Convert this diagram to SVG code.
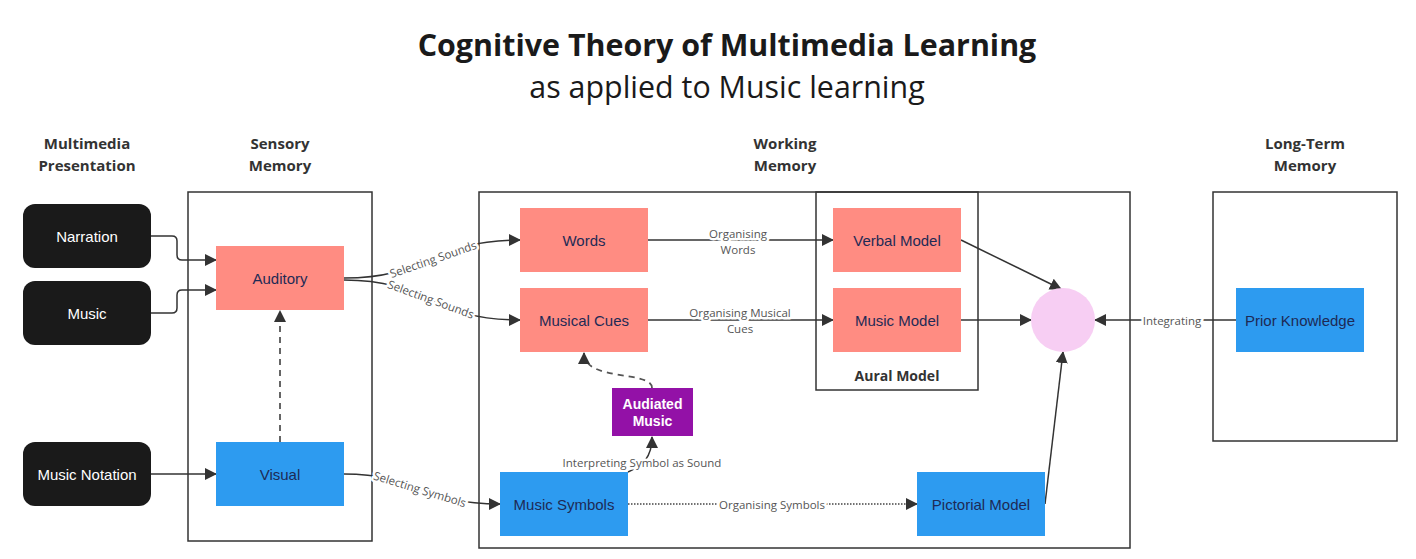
<svg xmlns="http://www.w3.org/2000/svg" width="1416" height="559" viewBox="0 0 1416 559">
<style>
.title{font-family:"Open Sans","Noto Sans",sans-serif;fill:#1a1a1a;text-anchor:middle}
.hdr{font-family:"Open Sans","Noto Sans",sans-serif;font-weight:bold;font-size:15px;fill:#333;text-anchor:middle}
.cont{fill:none;stroke:#333;stroke-width:1.5}
.blk{fill:#1a1a1a}
.blk-t{font-family:"Liberation Sans",Arial,sans-serif;font-size:15px;fill:#fff;text-anchor:middle;dominant-baseline:central}
.sal{fill:#ff8c82}
.blu{fill:#2d9bf0}
.nt{font-family:"Liberation Sans",Arial,sans-serif;font-size:15px;fill:#1e2a55;text-anchor:middle;dominant-baseline:central}
.edge{fill:none;stroke:#333;stroke-width:1.5}
.dash{fill:none;stroke:#555;stroke-width:1.8;stroke-dasharray:6 5}
.dot{fill:none;stroke:#444;stroke-width:1.3;stroke-dasharray:1.5 1.5}
.lbl{font-family:"Open Sans","Noto Sans",sans-serif;font-size:11.5px;fill:#555;text-anchor:middle;dominant-baseline:central;paint-order:stroke;stroke:#fff;stroke-width:5px;stroke-linejoin:round}
</style>
<defs>
<marker id="arr" markerUnits="userSpaceOnUse" markerWidth="12" markerHeight="12" viewBox="0 0 12 12" refX="11" refY="6" orient="auto">
<path d="M0,0 L12,6 L0,12 Z" fill="#333"/>
</marker>
</defs>
<rect width="1416" height="559" fill="#fff"/>

<g id="title">
<text class="title" x="727" y="56" font-size="30.4" font-weight="bold">Cognitive Theory of Multimedia Learning</text>
<text class="title" x="727" y="98" font-size="30.4">as applied to Music learning</text>
</g>

<g id="headers">
<text class="hdr" x="87" y="149">Multimedia</text>
<text class="hdr" x="87" y="171">Presentation</text>
<text class="hdr" x="280" y="149">Sensory</text>
<text class="hdr" x="280" y="171">Memory</text>
<text class="hdr" x="785" y="149">Working</text>
<text class="hdr" x="785" y="171">Memory</text>
<text class="hdr" x="1305" y="149">Long-Term</text>
<text class="hdr" x="1305" y="171">Memory</text>
</g>

<g id="containers">
<rect id="sensory" class="cont" x="188" y="192" width="184" height="349"/>
<rect id="working" class="cont" x="479" y="192" width="651" height="356"/>
<g id="aural">
<rect class="cont" x="816" y="192" width="162" height="198"/>
<text x="897" y="375" font-family="Open Sans, Noto Sans, sans-serif" font-weight="bold" font-size="14" fill="#333" text-anchor="middle" dominant-baseline="central">Aural Model</text>
</g>
<rect id="longterm" class="cont" x="1213" y="192" width="184" height="249"/>
</g>

<g id="connectors">
<path class="edge" d="M151,236 H172 Q177,236 177,241 V255 Q177,260 182,260 H216" marker-end="url(#arr)"/>
<path class="edge" d="M151,313 H172 Q177,313 177,308 V295 Q177,290 182,290 H216" marker-end="url(#arr)"/>
<path class="edge" d="M151,474 H216" marker-end="url(#arr)"/>
<path class="dash" d="M280,442 V311" marker-end="url(#arr)"/>
<path class="edge" d="M344,278 C430,278 430,240 520,240" marker-end="url(#arr)"/>
<path class="edge" d="M344,280 C430,280 430,320 520,320" marker-end="url(#arr)"/>
<path class="edge" d="M344,474 C420,474 420,504 500,504" marker-end="url(#arr)"/>
<path class="edge" d="M648,240 H833" marker-end="url(#arr)"/>
<path class="edge" d="M648,320 H833" marker-end="url(#arr)"/>
<path class="dot" d="M628,504 H917" marker-end="url(#arr)"/>
<path class="dash" d="M652,388 C652,370 584,382 584,353" marker-end="url(#arr)"/>
<path class="edge" d="M628,472 C642,466 652,458 652,437" marker-end="url(#arr)"/>
<path class="edge" d="M961,240 L1061,289" marker-end="url(#arr)"/>
<path class="edge" d="M961,320 H1031" marker-end="url(#arr)"/>
<path class="edge" d="M1045,504 L1063,352" marker-end="url(#arr)"/>
<path class="edge" d="M1236,320 H1095" marker-end="url(#arr)"/>
<text class="lbl" transform="translate(433,259) rotate(-19)">Selecting Sounds</text>
<text class="lbl" transform="translate(431,299) rotate(20)">Selecting Sounds</text>
<text class="lbl" transform="translate(420,489) rotate(17)">Selecting Symbols</text>
<text class="lbl" x="738" y="233">Organising</text>
<text class="lbl" x="738" y="249">Words</text>
<text class="lbl" x="740" y="312">Organising Musical</text>
<text class="lbl" x="740" y="328">Cues</text>
<text class="lbl" x="772" y="504">Organising Symbols</text>
<text class="lbl" x="642" y="462">Interpreting Symbol as Sound</text>
<text class="lbl" x="1172" y="320">Integrating</text>
</g>

<g id="narration"><rect class="blk" x="23" y="204" width="128" height="64" rx="12"/><text class="blk-t" x="87" y="236">Narration</text></g>
<g id="music"><rect class="blk" x="23" y="281" width="128" height="64" rx="12"/><text class="blk-t" x="87" y="313">Music</text></g>
<g id="music-notation"><rect class="blk" x="23" y="442" width="128" height="64" rx="12"/><text class="blk-t" x="87" y="474">Music Notation</text></g>

<g id="auditory"><rect class="sal" x="216" y="246" width="128" height="64"/><text class="nt" x="280" y="278">Auditory</text></g>
<g id="visual"><rect class="blu" x="216" y="442" width="128" height="64"/><text class="nt" x="280" y="474">Visual</text></g>
<g id="words"><rect class="sal" x="520" y="208" width="128" height="64"/><text class="nt" x="584" y="240">Words</text></g>
<g id="musical-cues"><rect class="sal" x="520" y="288" width="128" height="64"/><text class="nt" x="584" y="320">Musical Cues</text></g>
<g id="verbal-model"><rect class="sal" x="833" y="208" width="128" height="64"/><text class="nt" x="897" y="240">Verbal Model</text></g>
<g id="music-model"><rect class="sal" x="833" y="288" width="128" height="64"/><text class="nt" x="897" y="320">Music Model</text></g>
<g id="audiated-music"><rect x="612" y="388" width="81" height="48" fill="#9311a7"/><text x="652.5" y="404" font-family="Liberation Sans, Arial, sans-serif" font-weight="bold" font-size="14" fill="#fff" text-anchor="middle" dominant-baseline="central">Audiated</text><text x="652.5" y="421" font-family="Liberation Sans, Arial, sans-serif" font-weight="bold" font-size="14" fill="#fff" text-anchor="middle" dominant-baseline="central">Music</text></g>
<g id="music-symbols"><rect class="blu" x="500" y="472" width="128" height="64"/><text class="nt" x="564" y="504">Music Symbols</text></g>
<g id="pictorial-model"><rect class="blu" x="917" y="472" width="128" height="64"/><text class="nt" x="981" y="504">Pictorial Model</text></g>
<g id="prior-knowledge"><rect class="blu" x="1236" y="288" width="128" height="64"/><text class="nt" x="1300" y="320">Prior Knowledge</text></g>
<g id="integration"><circle cx="1063" cy="320" r="32" fill="#f7cef3"/></g>
</svg>
